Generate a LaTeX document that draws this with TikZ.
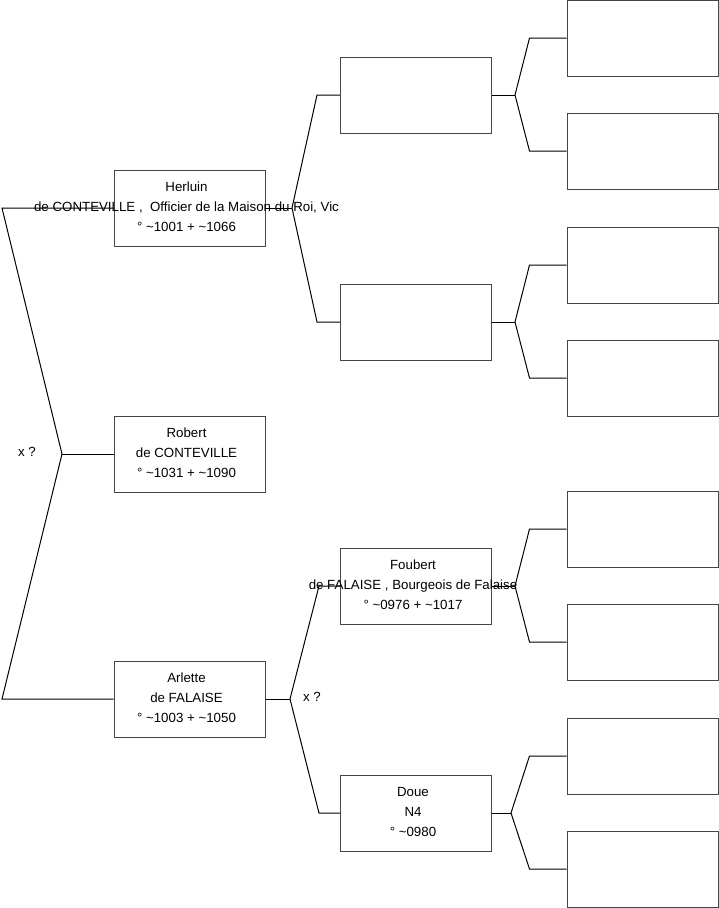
\documentclass[tikz,border=0pt]{standalone}
\usepackage{fontspec}
\setmainfont{Liberation Sans}
\usepackage{tikz}
\usetikzlibrary{positioning, calc}
\definecolor{boxline}{RGB}{70, 70, 70}

\begin{document}
\begin{tikzpicture}[
    x=1pt, y=-1pt,
    person/.style={draw=boxline, line width=1pt, minimum width=151pt,
                   minimum height=76pt, inner sep=0pt},
    who/.style={align=center, font=\fontsize{13.3}{20}\selectfont, inner sep=0pt,
                xshift=-3pt, yshift=1pt},
    link/.style={line width=1pt, black},
    xlab/.style={font=\fontsize{13.3}{20}\selectfont}
]
\useasboundingbox (0,0) rectangle (719,908);

%% ── Generation 1 ───────────────────────────────────────────────────────
\node[person] (herluin) at (189.5,208) {};
\node[person] (robert)  at (189.5,454) {};
\node[person] (arlette) at (189.5,699) {};

%% ── Generation 2 ───────────────────────────────────────────────────────
\node[person] (hfather) at (416,95)  {};
\node[person] (hmother) at (416,322) {};
\node[person] (foubert) at (416,586) {};
\node[person] (doue)    at (416,813) {};

%% ── Generation 3 (empty) ───────────────────────────────────────────────
\node[person] (hff) at (642.5,38)  {};
\node[person] (hfm) at (642.5,151) {};
\node[person] (hmf) at (642.5,265) {};
\node[person] (hmm) at (642.5,378) {};
\node[person] (fbf) at (642.5,529) {};
\node[person] (fbm) at (642.5,642) {};
\node[person] (df)  at (642.5,756) {};
\node[person] (dm)  at (642.5,869) {};

%% ── Fork points ────────────────────────────────────────────────────────
\coordinate (fk0)  at (62,454);
\coordinate (fk0u) at (2,208);
\coordinate (fk0d) at (2,699);
\coordinate (fk1)  at (292,208);
\coordinate (fk2)  at (290,699);
\coordinate (fk3)  at (515,95);
\coordinate (fk4)  at (515,322);
\coordinate (fk5)  at (515,586);
\coordinate (fk6)  at (511,813);

%% ── Connectors ─────────────────────────────────────────────────────────
\draw[link] (robert.west) -- (fk0);
\draw[link] (herluin.west) -- (fk0u) -- (fk0) -- (fk0d) -- (arlette.west);

\draw[link] (herluin.east) -- (fk1);
\draw[link] (hfather.west) -- ++(-23,0) -- (fk1) -- ($(hmother.west)+(-23,0)$) -- (hmother.west);

\draw[link] (arlette.east) -- (fk2);
\draw[link] (foubert.west) -- ++(-21,0) -- (fk2) -- ($(doue.west)+(-21,0)$) -- (doue.west);

\draw[link] (hfather.east) -- (fk3);
\draw[link] (hff.west) -- ++(-37,0) -- (fk3) -- ($(hfm.west)+(-37,0)$) -- (hfm.west);
\draw[link] (hmother.east) -- (fk4);
\draw[link] (hmf.west) -- ++(-37,0) -- (fk4) -- ($(hmm.west)+(-37,0)$) -- (hmm.west);
\draw[link] (foubert.east) -- (fk5);
\draw[link] (fbf.west) -- ++(-37,0) -- (fk5) -- ($(fbm.west)+(-37,0)$) -- (fbm.west);
\draw[link] (doue.east) -- (fk6);
\draw[link] (df.west) -- ++(-37,0) -- (fk6) -- ($(dm.west)+(-37,0)$) -- (dm.west);

%% ── Texts ──────────────────────────────────────────────────────────────
\node[who] (herluintxt) at (herluin) {Herluin\\de CONTEVILLE ,\ \ Officier de la Maison du Roi, Vic\\° \textasciitilde1001 + \textasciitilde1066};
\node[who] (roberttxt)  at (robert)  {Robert\\de CONTEVILLE\\° \textasciitilde1031 + \textasciitilde1090};
\node[who] (arlettetxt) at (arlette) {Arlette\\de FALAISE\\° \textasciitilde1003 + \textasciitilde1050};
\node[who] (fouberttxt) at (foubert) {Foubert\\de FALAISE , Bourgeois de Falaise\\° \textasciitilde0976 + \textasciitilde1017};
\node[who] (douetxt)    at (doue)    {Doue\\N4\\° \textasciitilde0980};

\node[xlab] (x0) at (27,452)  {x ?};
\node[xlab] (x1) at (312,697) {x ?};
\end{tikzpicture}
\end{document}
